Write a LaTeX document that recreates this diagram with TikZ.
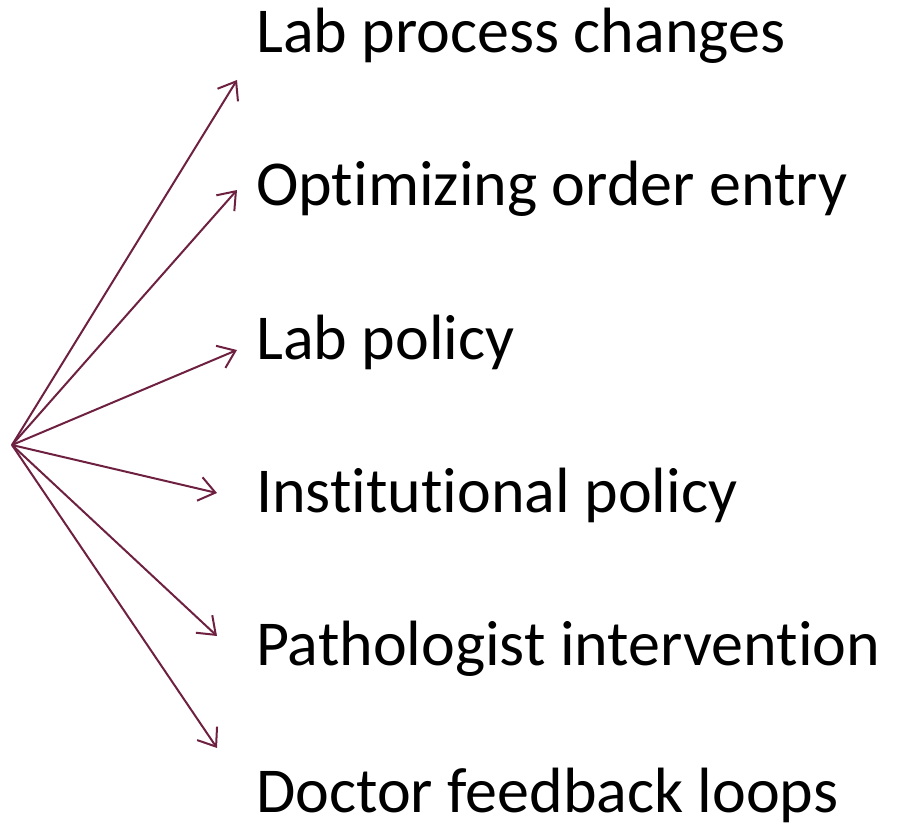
\documentclass[tikz,border=0pt]{standalone}
\usepackage{fontspec}
\setmainfont{Carlito}[Ligatures={NoCommon}]
\usetikzlibrary{arrows.meta}
\definecolor{maroon}{RGB}{110,32,64}
\tikzset{
  label/.style={anchor=base west, inner sep=0pt, font=\fontsize{64}{76}\selectfont, text=black},
  link/.style={draw=maroon, line width=2pt, -{Straight Barb[length=16pt,width=24pt,line width=2pt]}}
}
\begin{document}
\begin{tikzpicture}[x=1pt,y=-1pt]
\useasboundingbox (0,0) rectangle (897,829);
\coordinate (o) at (12,445);
\node[label] (t1) at (256,53) {Lab process changes};
\node[label] (t2) at (256,206) {Optimizing order entry};
\node[label] (t3) at (256,359) {Lab policy};
\node[label] (t4) at (256,512) {Institutional policy};
\node[label] (t5) at (256,665) {Pathologist intervention};
\node[label] (t6) at (256,812) {Doctor feedback loops};
\coordinate (e1) at (237,80);
\coordinate (e2) at (237,190);
\coordinate (e3) at (237,350);
\coordinate (e4) at (217,493);
\coordinate (e5) at (217,636);
\coordinate (e6) at (217,748);
\foreach \i in {1,...,6} \draw[link] (o) -- (e\i);
\end{tikzpicture}
\end{document}
